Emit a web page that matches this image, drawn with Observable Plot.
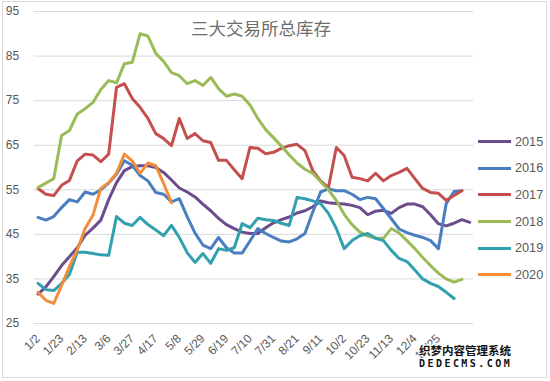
<!DOCTYPE html>
<html>
<head>
<meta charset="utf-8">
<script src="https://cdn.jsdelivr.net/npm/d3@7"></script>
<script src="https://cdn.jsdelivr.net/npm/@observablehq/plot@0.6"></script>
<style>
  body { margin: 0; background: #fff; }
  #wrap { position: relative; width: 550px; height: 381px; overflow: hidden; font-family: "Liberation Sans", Arial, sans-serif; }
  #chart { position: absolute; left: 0; top: 0; }
  #frame { position: absolute; left: 2px; top: 1px; width: 545px; height: 377px; border: 1px solid #d9d9d9; box-sizing: border-box; pointer-events: none; }
  #title { position: absolute; left: 0; width: 522px; top: 17px; line-height: 22px; text-align: center; font-family: "Noto Sans CJK SC", sans-serif; font-size: 17.5px; color: #6e6e6e; }
  #legend { position: absolute; left: 478px; top: 128.5px; }
  .item { display: flex; align-items: center; height: 26.6px; }
  .swatch { width: 33px; height: 3px; margin-right: 4px; }
  .lab { font-size: 12.7px; color: #595959; line-height: 14px; }
  #wm { position: absolute; left: 419px; top: 343px; color: #111; font-weight: bold; text-shadow: 1px 1px 0 #fff, -1px -1px 0 #fff, 1px -1px 0 #fff, -1px 1px 0 #fff; }
  #wm1 { font-family: "Noto Sans CJK SC", sans-serif; font-size: 11.5px; line-height: 15px; white-space: nowrap; }
  #wm2 { font-family: "DejaVu Sans Mono", monospace; font-size: 10px; line-height: 12px; letter-spacing: 2.45px; white-space: nowrap; }
</style>
</head>
<body>
<div id="wrap">
  <div id="chart"></div>
  <div id="title">三大交易所总库存</div>
  <div id="legend"></div>
  <div id="wm"><div id="wm1">织梦内容管理系统</div><div id="wm2">DEDECMS.COM</div></div>
  <div id="frame"></div>
</div>
<script>
const dates = ["1/2","1/9","1/16","1/23","1/30","2/6","2/13","2/20","2/27","3/6","3/13","3/20","3/27","4/3","4/10","4/17","4/24","5/1","5/8","5/15","5/22","5/29","6/5","6/12","6/19","6/26","7/3","7/10","7/17","7/24","7/31","8/7","8/14","8/21","8/28","9/4","9/11","9/18","9/25","10/2","10/9","10/16","10/23","10/30","11/6","11/13","11/20","11/27","12/4","12/11","12/18","12/25","1/1","1/8","1/15","1/22"];
const tickLabels = ["1/2","1/23","2/13","3/6","3/27","4/17","5/8","5/29","6/19","7/10","7/31","8/21","9/11","10/2","10/23","11/13","12/4","12/25"];
const yTicks = [25, 35, 45, 55, 65, 75, 85, 95];
const years = ["2015","2016","2017","2018","2019","2020"];

const v2015 = [31.6,33.2,35.5,38,40,42,44.8,46.4,48.2,52.8,56.6,59.3,60.2,60.4,60.4,60,58.9,57.2,55.4,54.5,53.4,51.8,50.3,48.6,47.2,46.3,45.5,45.2,45.2,46.5,47.6,48.3,48.9,49.8,50.3,51.2,52.5,52.1,51.9,51.8,51.5,51,49.4,50.2,50.4,49.7,51,51.8,51.8,51.2,49.4,47.4,46.9,47.5,48.3,47.7];
const v2016 = [48.8,48.2,49,51,52.8,52.3,54.5,54,55,56.5,58.5,61.5,60.5,58.2,57,54.4,54,52.3,53,49,45.3,42.6,41.8,44.3,42,40.8,40.8,43.5,46.3,45.2,44.3,43.5,43.3,44,45.2,50,54.5,55.2,54.8,54.8,54,52.8,53.3,53,50.8,48.5,46.2,45.4,44.8,44.3,43.6,41.8,51.9,54.6,54.8];
const v2017 = [55.3,54,53.7,56,57.1,61.5,63,62.8,61.3,63,78,78.8,75.5,73.5,71,67.6,66.5,64.9,71,66.5,67.6,66,65.6,61.6,61.6,59.5,57.5,64.5,64.3,63.1,63.4,64.3,64.9,65.2,63.8,59.3,57,55.5,64.5,62.7,57.8,57.5,57,58.7,57,58.2,58.9,59.8,57.5,55.3,54.4,54.2,52.6,53.7,54.8];
const v2018 = [55.5,56.5,57.5,67.2,68.3,72,73.2,74.6,77.5,79.5,79,83.3,83.6,90,89.5,85.6,83.8,81.3,80.6,78.8,79.5,78.4,80.2,77.7,76,76.5,76,74,71,68.5,66.7,64.8,62.8,61,59.6,58.7,56.8,55,52.6,49.5,47.2,45.5,44.6,44.2,44.1,46.3,45.3,43.6,41.8,39.8,38,36.3,35,34.3,34.9];
const v2019 = [34,32.6,32.4,34,36,41,41,40.7,40.4,40.3,49,47.5,47,48.8,47.2,46,44.7,47,44.3,40.9,38.7,40.7,38.5,41.8,41.4,42,47.4,46.5,48.6,48.3,48.1,47.5,47,53.3,53,52.5,51.9,49.7,46.3,41.8,43.6,44.7,45.2,44.1,43.6,41.4,39.6,38.9,37,35,34,33.3,32,30.6];
const v2020 = [32,30.2,29.5,33.5,37.8,41.5,46.3,49.3,55.3,56.6,58.7,63,61.5,58.7,61,60.4,56.4,52.1];

const seriesValues = [v2015, v2016, v2017, v2018, v2019, v2020];
const rows = seriesValues.flatMap((vals, k) => vals.map((v, i) => ({date: dates[i], value: v, year: years[k]})));

const chart = Plot.plot({
  width: 550,
  height: 381,
  marginLeft: 33.6,
  marginRight: 76.8,
  marginTop: 11,
  marginBottom: 58,
  style: {fontFamily: "'Liberation Sans', Arial, sans-serif", fontSize: "12px", color: "#595959", background: "transparent", overflow: "visible"},
  x: {type: "point", domain: dates, padding: 0.5, label: null, ticks: tickLabels, tickRotate: -45, tickSize: 0, tickPadding: 13},
  y: {domain: [25, 95], ticks: yTicks, label: null, tickSize: 0, tickPadding: 15},
  color: {domain: years, range: ["#6b4c8c", "#4a7ec0", "#c3504e", "#9bbb59", "#32a0ae", "#f18d3b"]},
  marks: [
    Plot.ruleY(yTicks, {stroke: "#d9d9d9", strokeWidth: 1}),
    Plot.line(rows, {x: "date", y: "value", z: "year", stroke: "year", strokeWidth: 3, strokeLinejoin: "round", strokeLinecap: "round"})
  ]
});
document.getElementById("chart").appendChild(chart);

const colorScale = chart.scale("color");
const legend = d3.select("#legend");
years.forEach(y => {
  const item = legend.append("div").attr("class", "item");
  item.append("div").attr("class", "swatch").style("background", colorScale.apply(y));
  item.append("div").attr("class", "lab").text(y);
});
</script>
</body>
</html>
